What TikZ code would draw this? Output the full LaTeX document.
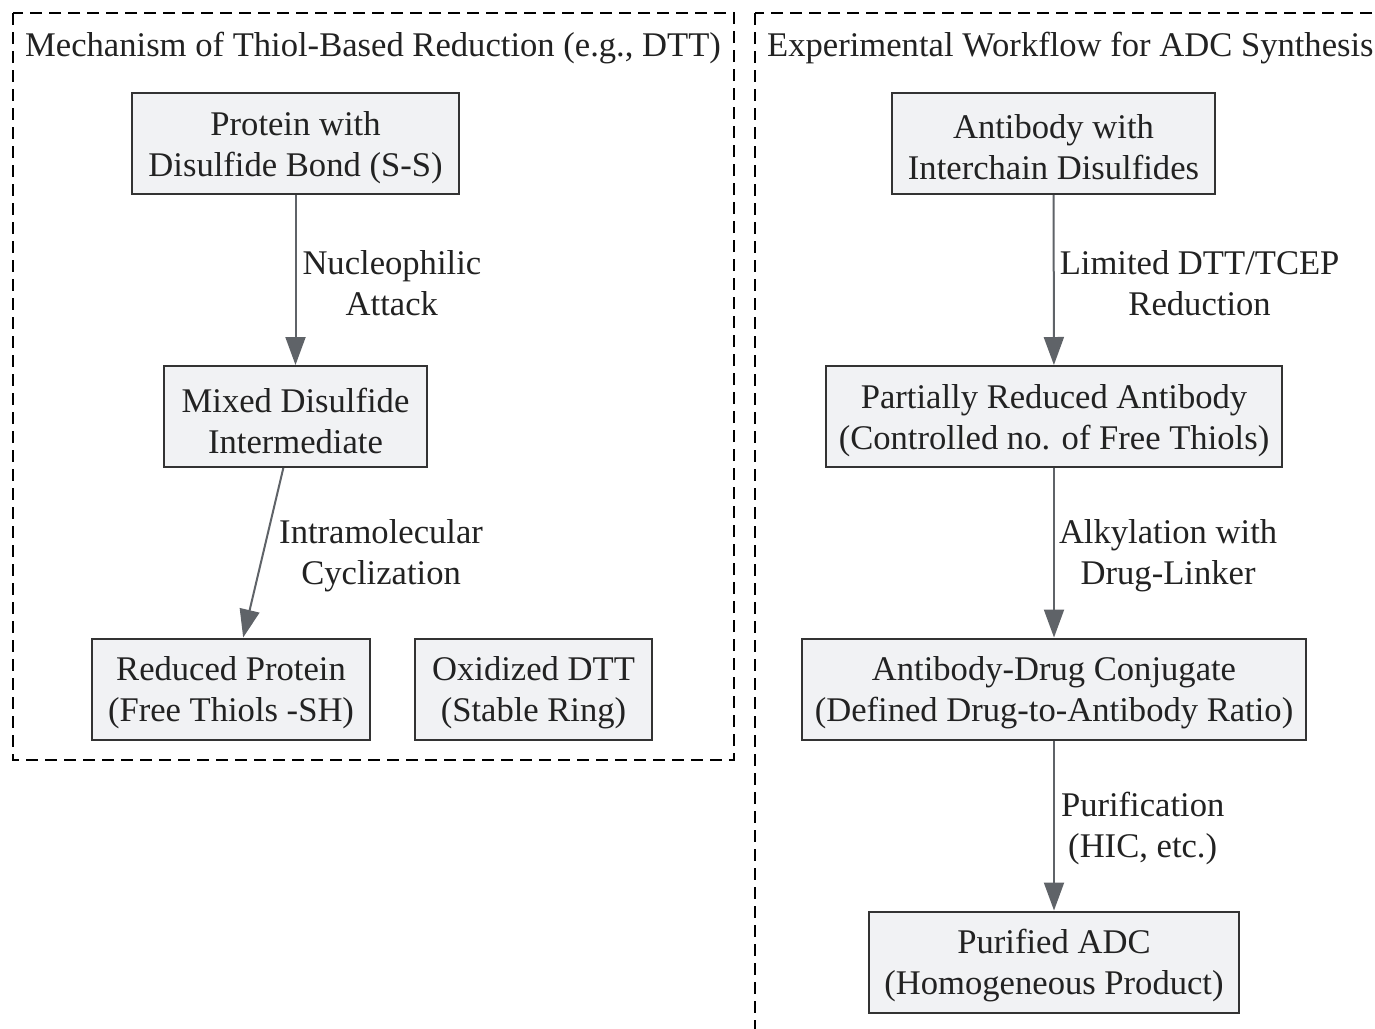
\documentclass[tikz,border=0pt]{standalone}
\usepackage{fontspec}
\setmainfont{Liberation Serif}
\usetikzlibrary{arrows.meta}
\definecolor{boxfill}{HTML}{F1F2F4}
\definecolor{boxborder}{HTML}{333333}
\definecolor{arrowgray}{HTML}{5F6368}
\definecolor{txt}{HTML}{222222}
\newcommand{\myfs}{\fontsize{34.6}{41}\selectfont}
\begin{document}
\begin{tikzpicture}[x=1pt,y=-1pt,
  box/.style={draw=boxborder, line width=2pt, fill=boxfill, inner sep=0pt, minimum height=101pt},
  btxt/.style={font=\myfs, text=txt, align=center, inner sep=0pt, yshift=-4pt},
  arr/.style={draw=arrowgray, line width=2pt, -{Triangle[length=28pt,width=20pt]}},
  lbl/.style={font=\myfs, text=txt, align=center, inner sep=0pt, yshift=-3pt},
  cluster/.style={draw=black, line width=2.5pt, dash pattern=on 12pt off 7pt},
  ttl/.style={font=\myfs, text=txt, inner sep=0pt, anchor=base west}]
\useasboundingbox (0,0) rectangle (1375,1028);
\clip (0,0) rectangle (1375,1028);
\draw[cluster] (13,13) rectangle (734,760);
\draw[cluster] (755,13) rectangle (1390,1045);
\node[ttl] (t1) at (25,56) {Mechanism of Thiol-Based Reduction (e.g., DTT)};
\node[ttl] (t2) at (767,56) {Experimental Workflow for ADC Synthesis};
\node[box, minimum width=327pt, label={[btxt]center:{Protein with\\Disulfide Bond (S-S)}}] (l1) at (295.5,143.5) {};
\node[box, minimum width=263pt, label={[btxt]center:{Mixed Disulfide\\Intermediate}}] (l2) at (295.5,416.5) {};
\node[box, minimum width=278pt, label={[btxt]center:{Reduced Protein\\(Free Thiols -SH)}}] (l3) at (231,689) {};
\node[box, minimum width=237pt, label={[btxt]center:{Oxidized DTT\\(Stable Ring)}}] (l4) at (533.5,689) {};
\node[box, minimum width=323pt, label={[btxt]center:{Antibody with\\Interchain Disulfides}}] (r1) at (1053.5,143.5) {};
\node[box, minimum width=456pt, label={[btxt]center:{Partially Reduced Antibody\\(Controlled no. of Free Thiols)}}] (r2) at (1054,416.5) {};
\node[box, minimum width=504pt, label={[btxt]center:{Antibody-Drug Conjugate\\(Defined Drug-to-Antibody Ratio)}}] (r3) at (1054,689) {};
\node[box, minimum width=370pt, label={[btxt]center:{Purified ADC\\(Homogeneous Product)}}] (r4) at (1054,962) {};
\draw[arr] (l1) -- node[lbl, anchor=west, xshift=6pt] {Nucleophilic\\Attack} (l2);
\draw[arr] (l2) -- node[lbl, anchor=west, xshift=15pt] {Intramolecular\\Cyclization} (l3);
\draw[arr] (r1) -- node[lbl, anchor=west, xshift=5pt] {Limited DTT/TCEP\\Reduction} (r2);
\draw[arr] (r2) -- node[lbl, anchor=west, xshift=4pt] {Alkylation with\\Drug-Linker} (r3);
\draw[arr] (r3) -- node[lbl, anchor=west, xshift=6pt] {Purification\\(HIC, etc.)} (r4);
\end{tikzpicture}
\end{document}
